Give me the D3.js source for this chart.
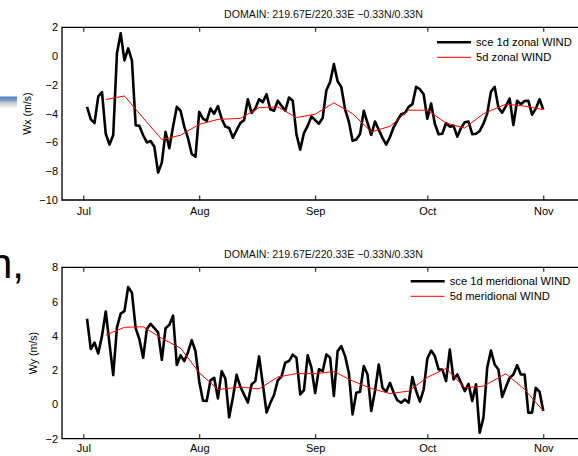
<!DOCTYPE html>
<html>
<head>
<meta charset="utf-8">
<script src="https://cdn.jsdelivr.net/npm/d3@7/dist/d3.min.js"></script>
<style>
  html, body { margin: 0; padding: 0; background: #fff; }
  svg { display: block; font-family: "Liberation Sans", Arial, Helvetica, sans-serif; }
</style>
</head>
<body>
<svg id="chart" width="578" height="456"></svg>
<script>
// ---- data -------------------------------------------------------------
const firstDay = "2011-07-02";           // first daily sample
const monthTicks = ["2011-07-01", "2011-08-01", "2011-09-01", "2011-10-01", "2011-11-01"];
const monthLabels = ["Jul", "Aug", "Sep", "Oct", "Nov"];

// daily zonal wind (m/s), Jul 2 .. Nov 1
const zonalDaily = [
  -3.53, -4.4, -4.65, -2.8, -2.5, -5.4, -6.15, -5.5, 0.2, 1.58, -0.3, 0.53, -0.3, -4.8, -4.85,
  -5.5, -6.0, -5.9, -6.3, -8.1, -7.4, -5.27, -6.4, -4.9, -3.53, -3.8, -4.9, -5.7, -6.8, -7.0,
  -3.88, -4.35, -4.5, -3.65, -4.0, -3.48, -4.35, -4.9, -5.0, -5.67, -5.15, -4.65, -4.45, -3.0, -3.95,
  -3.65, -3.0, -3.2, -2.65, -3.7, -3.8, -3.1, -3.45, -3.8, -2.88, -3.1, -5.45, -6.5, -5.35, -4.85, -4.2,
  -4.45, -4.7, -4.3, -2.37, -1.8, -0.56, -1.75, -2.16, -3.7, -4.55, -5.88, -5.8, -5.42, -3.8, -4.65,
  -5.47, -4.55, -5.12, -5.68, -6.15, -5.62, -4.93, -4.46, -4.04, -3.95, -3.53, -3.34, -2.14, -2.3, -2.65,
  -4.35, -3.3, -4.7, -5.43, -5.4, -4.65, -4.9, -4.85, -5.6, -5.0, -4.6, -4.55, -5.43, -5.4, -5.2, -4.7,
  -4.0, -2.48, -2.14, -3.58, -3.93, -3.47, -2.95, -4.8, -3.1, -3.35, -3.12, -3.1, -4.07, -3.65, -3.0,
  -3.72
];

// daily meridional wind (m/s), Jul 2 .. Nov 1
const meridDaily = [
  5.0, 3.23, 3.6, 2.97, 4.0, 5.42, 3.56, 1.71, 4.5, 5.3, 5.44, 6.85, 6.52, 4.45, 3.8,
  2.72, 4.4, 4.7, 4.45, 4.2, 2.6, 4.45, 4.64, 5.18, 2.3, 2.87, 2.53, 3.05, 3.75, 3.1,
  1.34, 0.22, 0.2, 1.4, 1.55, 0.35, 1.94, 1.5, -0.75, 0.4, 1.73, 1.03, 0.57, 0.11, 1.17,
  1.36, 2.8, 1.2, -0.47, 0.08, 0.55, 1.4, 1.63, 2.44, 2.53, 2.9, 2.72, 0.58, 0.83, 2.86, 2.14,
  0.66, 2.05, 1.94, 2.91, 2.72, 0.49, 3.11, 3.4, 2.82, 1.85, -0.58, 0.68, 0.74, 2.24, 1.75,
  -0.38, 0.78, 2.33, 0.97, 0.74, 1.26, 0.68, 0.23, 0.1, 0.29, 0.1, 1.6, 0.78, 0.16, 0.87,
  2.68, 3.14, 2.82, 2.04, 2.04, 1.36, 3.2, 1.46, 1.75, 1.26, 0.78, 1.2, 0.2, 1.17, -1.65, -0.77,
  2.14, 3.14, 2.33, 2.04, 0.43, 1.01, 1.55, 1.75, 2.29, 1.75, 1.75, -0.48, -0.48, 0.97, 0.74,
  -0.38
];

// 5-day averages
const pentadDates = [
  "2011-07-07", "2011-07-12", "2011-07-17", "2011-07-22", "2011-07-27", "2011-08-01",
  "2011-08-06", "2011-08-12", "2011-08-17", "2011-08-22", "2011-08-27", "2011-09-01",
  "2011-09-06", "2011-09-11", "2011-09-16", "2011-09-21", "2011-09-26", "2011-10-01",
  "2011-10-06", "2011-10-11", "2011-10-16", "2011-10-22", "2011-10-27", "2011-11-01"
];
const zonal5d = [
  -3.02, -2.77, -4.3, -5.8, -5.5, -4.74, -4.4, -4.33, -3.58, -3.53, -4.27, -4.04,
  -3.25, -4.0, -5.27, -4.88, -3.76, -3.76, -4.65, -5.0, -4.0, -3.34, -3.48, -3.72
];
const merid5d = [
  4.04, 4.5, 4.53, 3.85, 3.28, 1.85, 0.87, 1.01, 0.91, 1.6, 1.8, 1.79,
  1.92, 1.37, 0.93, 0.63, 0.78, 1.58, 2.1, 0.97, 1.07, 1.79, 0.87, -0.38
];

const titleText = "DOMAIN: 219.67E/220.33E  \u22120.33N/0.33N";
const zonalTicks = [2, 0, -2, -4, -6, -8, -10];
const meridTicks = [8, 6, 4, 2, 0, -2];

// ---- drawing ----------------------------------------------------------
const parse = d3.utcParse("%Y-%m-%d");
const svg = d3.select("#chart");
const W = 578;

const x = d3.scaleUtc()
  .domain([parse(monthTicks[0]), parse(monthTicks[monthTicks.length - 1])])
  .range([83.3, 543.3]);

const dailyDates = zonalDaily.map((_, i) => d3.utcDay.offset(parse(firstDay), i));
const pentad = pentadDates.map(parse);

// slide decorations at the left edge
const defs = svg.append("defs");
const grad = defs.append("linearGradient").attr("id", "barFade")
  .attr("x1", 0).attr("y1", 0).attr("x2", 0).attr("y2", 1);
[["0", "#4f7fc0"], ["0.35", "#7d9ccb"], ["0.55", "#c4c7cc"], ["1", "#f3f3f3"]]
  .forEach(([o, c]) => grad.append("stop").attr("offset", o).attr("stop-color", c));
svg.append("rect").attr("x", 0).attr("y", 96.5).attr("width", 17).attr("height", 11)
  .attr("fill", "url(#barFade)");
svg.append("text").attr("x", -11).attr("y", 278)
  .attr("font-size", 42).attr("fill", "#000").text("n,");

function panel(opts) {
  const { top, bottom, domain, ticks, daily, smooth, yLabel, yLabelX, titleY,
          legendY, legendX, legendNames, labelPad } = opts;
  const y = d3.scaleLinear().domain(domain).range([bottom, top]);
  const g = svg.append("g");

  // title
  g.append("text").attr("x", 323.5).attr("y", titleY).attr("text-anchor", "middle")
    .attr("font-size", 10.6).attr("fill", "#111").text(titleText);

  // frame (open to the right edge)
  g.append("path")
    .attr("d", `M${W},${top}H62V${bottom}H${W}`)
    .attr("fill", "none").attr("stroke", "#000").attr("stroke-width", 1.3);

  // month ticks, inward at top and bottom
  const xAxisB = d3.axisBottom(x).tickValues(monthTicks.map(parse))
    .tickFormat((d, i) => monthLabels[i]).tickSizeInner(-4.5).tickSizeOuter(0).tickPadding(labelPad);
  const gb = g.append("g").attr("transform", `translate(0,${bottom})`).call(xAxisB);
  gb.select(".domain").remove();
  gb.selectAll("line").attr("stroke", "#000").attr("stroke-width", 1);
  gb.selectAll("text").attr("font-size", 11).attr("fill", "#000")
    .attr("font-family", "\"Liberation Sans\", Arial, sans-serif");
  const xAxisT = d3.axisTop(x).tickValues(monthTicks.map(parse))
    .tickFormat("").tickSizeInner(-4.5).tickSizeOuter(0);
  const gt = g.append("g").attr("transform", `translate(0,${top})`).call(xAxisT);
  gt.select(".domain").remove();
  gt.selectAll("line").attr("stroke", "#000").attr("stroke-width", 1);

  // value axis labels
  const yAxis = d3.axisLeft(y).tickValues(ticks)
    .tickFormat(d => d < 0 ? "\u2212" + Math.abs(d) : String(d))
    .tickSize(0).tickPadding(4);
  const gy = g.append("g").attr("transform", "translate(62,0)").call(yAxis);
  gy.select(".domain").remove();
  gy.selectAll("text").attr("font-size", 11).attr("fill", "#000")
    .attr("font-family", "\"Liberation Sans\", Arial, sans-serif");

  g.append("text")
    .attr("transform", `translate(${yLabelX},${(top + bottom) / 2}) rotate(-90)`)
    .attr("text-anchor", "middle").attr("font-size", 10.6).attr("fill", "#000")
    .text(yLabel);

  const line = d3.line().x(d => x(d[0])).y(d => y(d[1]));

  g.append("path").datum(daily.map((v, i) => [dailyDates[i], v]))
    .attr("d", line).attr("fill", "none").attr("stroke", "#000")
    .attr("stroke-width", 2.6).attr("stroke-linejoin", "round");
  g.append("path").datum(smooth.map((v, i) => [pentad[i], v]))
    .attr("d", line).attr("fill", "none").attr("stroke", "#ff0000")
    .attr("stroke-width", 1);

  // legend
  const lg = g.append("g");
  const items = [{ c: "#000", w: 2.6 }, { c: "#ff0000", w: 1 }];
  items.forEach((it, i) => {
    const ly = legendY + i * 15;
    lg.append("line").attr("x1", legendX).attr("x2", legendX + 34)
      .attr("y1", ly).attr("y2", ly).attr("stroke", it.c).attr("stroke-width", it.w);
    lg.append("text").attr("x", legendX + 39).attr("y", ly + 4)
      .attr("font-size", 11.2).attr("fill", "#000").text(legendNames[i]);
  });
}

panel({
  top: 27.3, bottom: 200, domain: [-10, 2], ticks: zonalTicks,
  daily: zonalDaily, smooth: zonal5d, yLabel: "Wx (m/s)", yLabelX: 30.5,
  titleY: 18.3, legendY: 42.3, legendX: 437, labelPad: 7,
  legendNames: ["sce 1d zonal WIND", "5d zonal WIND"]
});

panel({
  top: 267.3, bottom: 438.7, domain: [-2, 8], ticks: meridTicks,
  daily: meridDaily, smooth: merid5d, yLabel: "Wy (m/s)", yLabelX: 37,
  titleY: 258, legendY: 281.3, legendX: 410.7, labelPad: 6,
  legendNames: ["sce 1d meridional WIND", "5d meridional WIND"]
});
</script>
</body>
</html>
